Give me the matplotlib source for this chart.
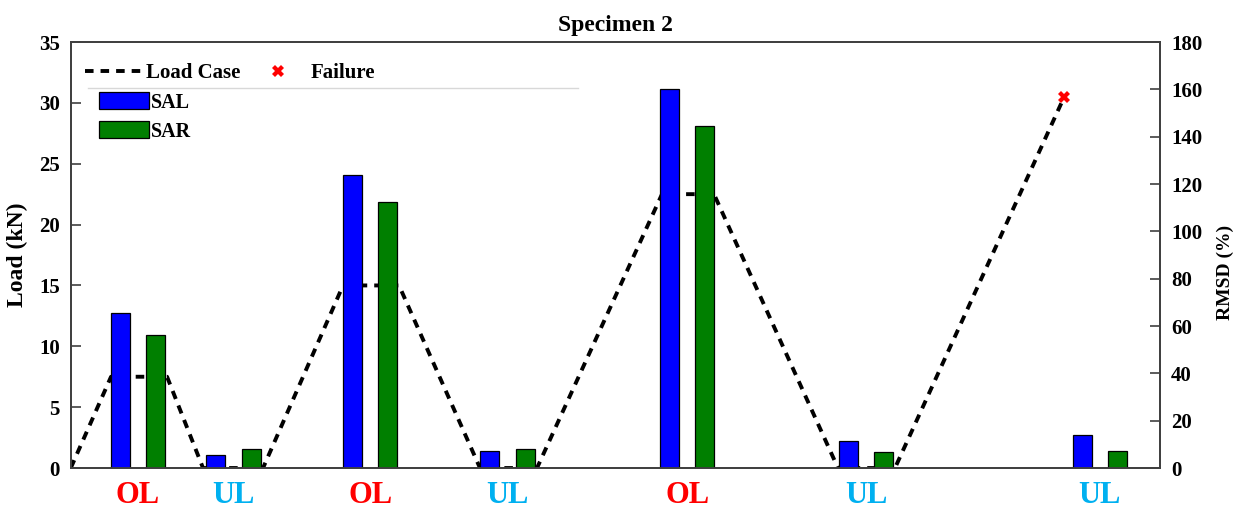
import matplotlib
matplotlib.use('Agg')
import matplotlib.pyplot as plt
from matplotlib.patches import Patch
from matplotlib.lines import Line2D
import numpy as np

plt.rcParams['font.family'] = ['Liberation Serif', 'DejaVu Serif']
plt.rcParams['font.weight'] = 'bold'

# ---- data ----
time_pts = [0, 4.03, 9.63, 13.23, 19.23, 27.23, 32.83, 40.93, 46.63, 59.13, 64.33, 76.73, 82.43, 99.36]
load_pts = [0, 7.5, 7.5, 0, 0, 15, 15, 0, 0, 22.5, 22.5, 0, 0, 30.5]
failure_time = [99.36]
failure_load = [30.5]
stages = ['OL', 'UL', 'OL', 'UL', 'OL', 'UL', 'UL']
stage_pos = [6.73, 16.28, 29.95, 43.68, 61.65, 79.56, 102.92]
sal = [65.7, 5.3, 123.9, 7.3, 160.2, 11.5, 14.1]
sar = [56.0, 8.0, 112.6, 8.0, 144.6, 6.8, 7.4]
load_ticks = [0, 5, 10, 15, 20, 25, 30, 35]
rmsd_ticks = [0, 20, 40, 60, 80, 100, 120, 140, 160, 180]

stage_colors = {'OL': '#FF0000', 'UL': '#00B0F0'}
dash_style = (0, (2.2, 1.8))

fig = plt.figure(figsize=(12.39, 5.11), dpi=100)
ax = fig.add_axes([0.0571, 0.0841, 0.8791, 0.8337])
ax2 = ax.twinx()

# load case line (left axis)
ax.plot(time_pts, load_pts, color='black', lw=2.8, linestyle=dash_style, zorder=2)
ax.plot(failure_time, failure_load, marker='X', color='red', markersize=9,
        markeredgewidth=0, linestyle='none', zorder=3)

# bars (right axis)
bw = 1.9
off = 1.77
pos = np.array(stage_pos)
ax2.bar(pos - off, sal, width=bw, color='#0000FF', edgecolor='black', linewidth=0.9, zorder=2)
ax2.bar(pos + off, sar, width=bw, color='#007F00', edgecolor='black', linewidth=0.9, zorder=2)

ax.set_xlim(0, 108.93)
ax.set_ylim(0, 35)
ax2.set_ylim(0, 180)
ax.set_yticks(load_ticks)
ax2.set_yticks(rmsd_ticks)

ax.set_xticks(stage_pos)
ax.set_xticklabels(stages)
for lbl, s in zip(ax.get_xticklabels(), stages):
    lbl.set_color(stage_colors[s])
    lbl.set_fontsize(22)
    lbl.set_fontweight('bold')
ax.tick_params(axis='x', length=0, pad=9)

ax.tick_params(axis='y', direction='in', length=7, width=1.2, labelsize=15, pad=8, color='#404040')
ax2.tick_params(axis='y', direction='in', length=7, width=1.2, labelsize=15, pad=8, color='#404040')

for a in (ax, ax2):
    for sp in a.spines.values():
        sp.set_color('#404040')
        sp.set_linewidth(1.3)

ax.set_ylabel('Load (kN)', fontsize=17, fontweight='bold', labelpad=8)
ax2.set_ylabel('RMSD (%)', fontsize=14, fontweight='bold', labelpad=12)
ax2.yaxis.set_label_coords(1.052, 0.458)

fig.text(0.4966, 1 - 25 / 511, 'Specimen 2', fontsize=17, fontweight='bold',
         ha='center', va='center')

# legends
h1 = [Line2D([], [], color='black', lw=2.8, linestyle=dash_style),
      Line2D([], [], marker='X', color='red', markersize=9, markeredgewidth=0, linestyle='none')]
leg1 = ax2.legend(h1, ['Load Case', 'Failure'], ncol=2, loc='center left',
                  bbox_to_anchor=(0.013, 0.927), frameon=False, borderpad=0,
                  borderaxespad=0, handlelength=2.8, handletextpad=0.15,
                  columnspacing=0.4, prop={'size': 15, 'weight': 'bold'})
ax2.add_artist(leg1)

h2 = [Patch(facecolor='#0000FF', edgecolor='black', linewidth=0.9),
      Patch(facecolor='#007F00', edgecolor='black', linewidth=0.9)]
ax2.legend(h2, ['SAL', 'SAR'], loc='upper left', bbox_to_anchor=(0.026, 0.882),
           frameon=False, borderpad=0, borderaxespad=0, handlelength=2.5,
           handleheight=0.92, handletextpad=0.1, labelspacing=0.42,
           prop={'size': 14.5, 'weight': 'bold'})

ax2.plot([0.0158, 0.4657], [0.892, 0.892], transform=ax2.transAxes, color='#D8D8D8',
         lw=1.0, clip_on=False)

fig.savefig('out.png', dpi=100)
